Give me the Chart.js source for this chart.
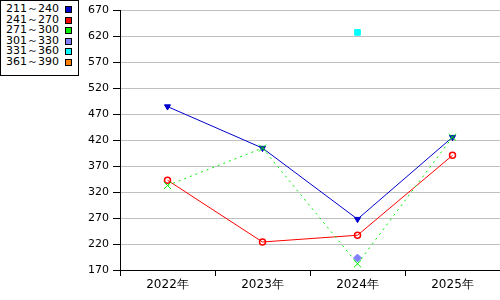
<!DOCTYPE html>
<html><head><meta charset="utf-8">
<script src="https://cdn.jsdelivr.net/npm/chart.js@4"></script>
<style>
html,body{margin:0;padding:0;background:#fff;}
#wrap{position:relative;width:500px;height:300px;}
#legend{position:absolute;left:0;top:0;width:77px;height:71px;border:1px solid #000;background:#fff;padding:3px 0 0 0;font-family:"DejaVu Sans",sans-serif;font-size:11px;line-height:10.5px;color:#000;}
#legend div{position:relative;height:10.5px;padding-left:5px;}
#legend span{position:absolute;left:64px;top:2px;width:5px;height:5px;border:1px solid #000;}
</style></head>
<body><div id="wrap"><canvas id="c" width="500" height="300"></canvas><div id="legend"></div></div>
<script>
const categories = ["2022年","2023年","2024年","2025年"];
const seriesNames = ["211～240","241～270","271～300","301～330","331～360","361～390"];
const s211 = [485, 405, 268, 426];
const s241 = [343, 224, 237, 391];
const s271 = [333, 405, 182, 426];
const s301 = [null, null, 193, null];
const s331 = [null, null, 628, null];
const s361 = [null, null, null, null];
const yTicks = [170,220,270,320,370,420,470,520,570,620,670];

const colors = ["#0000cc","#ff0000","#00ee00","#8080ff","#00ffff","#ff8000"];
const leg = document.getElementById('legend');
seriesNames.forEach((n,i)=>{const d=document.createElement('div');d.textContent=n;const s=document.createElement('span');s.style.background=colors[i];d.appendChild(s);leg.appendChild(d);});

new Chart(document.getElementById('c'), {
  type: 'line',
  data: {
    labels: categories,
    datasets: [
      {label: seriesNames[0], data: s211, borderColor: colors[0], backgroundColor: colors[0], borderWidth: 1, pointStyle: 'triangle', rotation: 180, pointRadius: 3.5},
      {label: seriesNames[1], data: s241, borderColor: colors[1], backgroundColor: 'rgba(0,0,0,0)', borderWidth: 1, pointStyle: 'circle', pointRadius: 3, pointBorderWidth: 1.5},
      {label: seriesNames[2], data: s271, borderColor: colors[2], backgroundColor: colors[2], borderWidth: 1, borderDash: [2,4], pointStyle: 'crossRot', pointRadius: 5, pointBorderWidth: 1, order: -1},
      {label: seriesNames[3], data: s301, borderColor: colors[3], backgroundColor: colors[3], borderWidth: 1, pointStyle: 'rectRot', pointRadius: 4},
      {label: seriesNames[4], data: s331, borderColor: colors[4], backgroundColor: colors[4], borderWidth: 1, pointStyle: 'rect', pointRadius: 4},
      {label: seriesNames[5], data: s361, borderColor: colors[5], backgroundColor: colors[5], borderWidth: 1, pointStyle: 'rect', pointRadius: 4}
    ]
  },
  options: {
    responsive: false, animation: false,
    layout: {autoPadding: false, padding: {top: 10, right: 0, left: 0, bottom: 0}},
    plugins: {legend: {display: false}, tooltip: {enabled: false}},
    elements: {line: {tension: 0}},
    scales: {
      x: {
        offset: true,
        grid: {offset: true, drawOnChartArea: false, drawTicks: true, tickLength: 6, tickColor: '#000'},
        border: {color: '#000', width: 1},
        ticks: {color: '#000', font: {family: '"DejaVu Sans", sans-serif', size: 12}, padding: 2, maxRotation: 0},
        afterFit: s => { s.height = 30; s.paddingLeft = 0; s.paddingRight = 0; }
      },
      y: {
        min: 170, max: 670,
        afterBuildTicks: s => { s.ticks = yTicks.map(v => ({value: v})); },
        grid: {color: '#c0c0c0', tickColor: '#000', tickLength: 7, drawTicks: true},
        border: {color: '#000', width: 1},
        ticks: {color: '#000', font: {family: '"DejaVu Sans", sans-serif', size: 11}, padding: 4},
        afterFit: s => { s.width = 120; }
      }
    }
  }
});
</script></body></html>
